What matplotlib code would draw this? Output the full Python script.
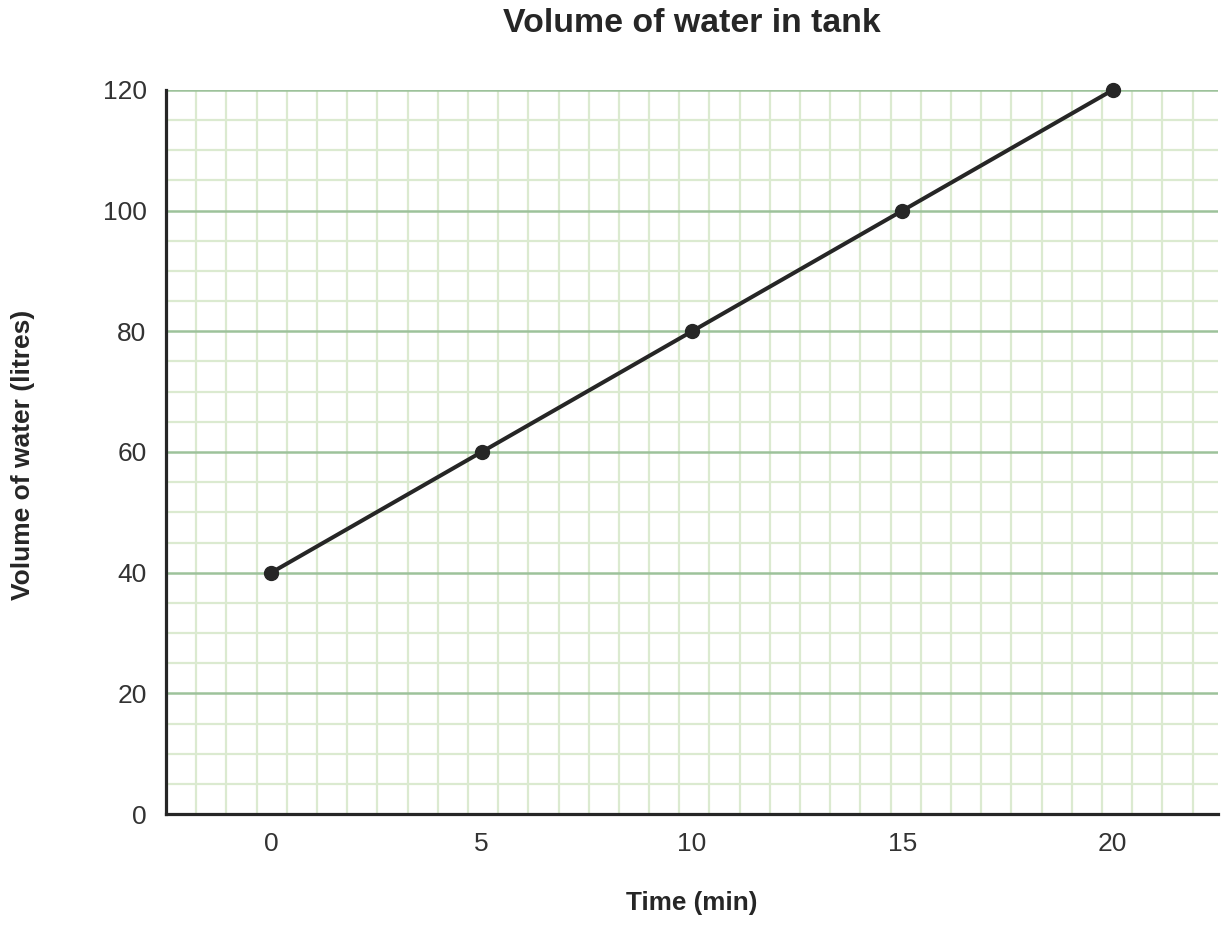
import numpy as np
import matplotlib
matplotlib.use("Agg")
import matplotlib.pyplot as plt

plt.rcParams['font.family'] = ['Liberation Sans', 'DejaVu Sans']

# Data
time_min = [0, 5, 10, 15, 20]
volume_litres = [40, 60, 80, 100, 120]
x_ticks = [0, 5, 10, 15, 20]
y_ticks = [0, 20, 40, 60, 80, 100, 120]

title = "Volume of water in tank"
xlabel = "Time (min)"
ylabel = "Volume of water (litres)"

W, H = 1228, 926
fig = plt.figure(figsize=(W / 100, H / 100), dpi=100)
ax = fig.add_axes([166 / W, 1 - 814 / H, (1218 - 166) / W, (814 - 90) / H])

xmin, xmax = -2.5, 22.5
ymin, ymax = 0, 120
ax.set_xlim(xmin, xmax)
ax.set_ylim(ymin, ymax)

major_col = '#9dc29b'
minor_col = '#dbead0'

# graph-paper grid: square cells (vertical spacing matched to 5-unit horizontal spacing)
x_step = 0.7175
vx = np.arange(xmin + x_step, xmax, x_step)
ax.set_xticks(vx, minor=True)
ax.set_yticks(np.arange(5, 120, 5), minor=True)
ax.grid(which='minor', color=minor_col, linewidth=1.6)
ax.set_axisbelow(True)
for yv in y_ticks[1:]:
    ax.axhline(yv, color=major_col, linewidth=1.8, zorder=1)

ax.plot(time_min, volume_litres, color='#262626', linewidth=2.9, marker='o',
        markersize=10, zorder=3, clip_on=False)

ax.set_xticks(x_ticks)
ax.set_yticks(y_ticks)
ax.tick_params(which='both', length=0)
ax.tick_params(axis='x', pad=13, labelsize=19, labelcolor='#333333')
ax.tick_params(axis='y', pad=14, labelsize=19, labelcolor='#333333')

for s in ['top', 'right']:
    ax.spines[s].set_visible(False)
for s in ['left', 'bottom']:
    ax.spines[s].set_color('#262626')
    ax.spines[s].set_linewidth(2.3)
    ax.spines[s].set_zorder(4)

fig.text(692 / W, 1 - 23 / H, title, ha='center', va='center', fontsize=24.4,
         fontweight='bold', color='#262626')
fig.text(692 / W, 1 - 903 / H, xlabel, ha='center', va='center', fontsize=18.8,
         fontweight='bold', color='#262626')
fig.text(23 / W, 1 - 455 / H, ylabel, ha='center', va='center', fontsize=19,
         fontweight='bold', color='#262626', rotation=90)

fig.savefig('out.png', dpi=100)
